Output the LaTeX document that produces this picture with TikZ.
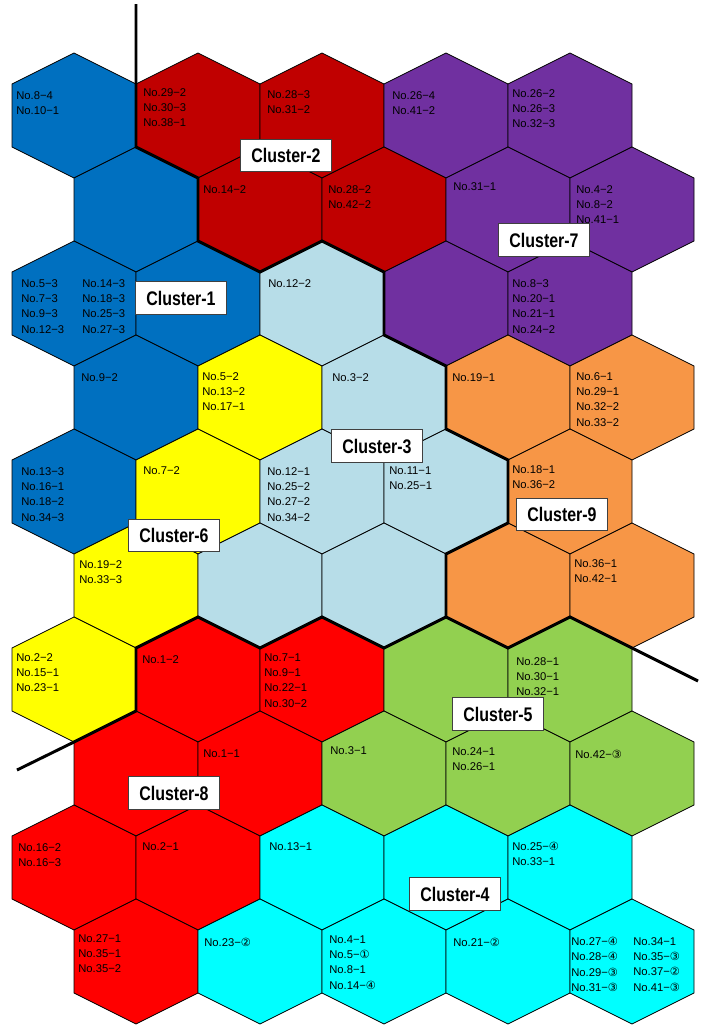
\documentclass[tikz,border=0pt]{standalone}
\usepackage{fontspec}
\setmainfont{Liberation Sans}
\newfontfamily\circfont{DejaVu Sans}
\newfontfamily\clusterfont[FakeStretch=0.81]{Liberation Sans}
\usepackage{xcolor}
\usepackage{tikz}
\definecolor{clblue}{HTML}{0070C0}
\definecolor{cldred}{HTML}{C00000}
\definecolor{clpurple}{HTML}{7030A0}
\definecolor{cllblue}{HTML}{B7DDE8}
\definecolor{clyellow}{HTML}{FFFF00}
\definecolor{clorange}{HTML}{F79646}
\definecolor{clred}{HTML}{FF0000}
\definecolor{clgreen}{HTML}{92D050}
\definecolor{clcyan}{HTML}{00FFFF}
\newcommand{\cnum}[1]{{\circfont #1}}

\begin{document}
\begin{tikzpicture}[
  x=0.025cm, y=-0.025cm,
  cell/.style={draw=black, line width=0.6pt},
  info/.style={anchor=north west, inner sep=0pt, align=left, font=\fontsize{8}{10.9}\selectfont},
  clusterlabel/.style={rectangle, draw=black!75, line width=0.6pt, fill=white, minimum width=2.29cm, minimum height=0.81cm, inner sep=0pt, font=\clusterfont\bfseries\fontsize{14}{16}\selectfont},
  cut/.style={line width=2.1pt, black}
]
\useasboundingbox (0,0) rectangle (703,1027);
\foreach \rw/\row in {
  0/{clblue,cldred,cldred,clpurple,clpurple},
  1/{clblue,cldred,cldred,clpurple,clpurple},
  2/{clblue,clblue,cllblue,clpurple,clpurple},
  3/{clblue,clyellow,cllblue,clorange,clorange},
  4/{clblue,clyellow,cllblue,cllblue,clorange},
  5/{clyellow,cllblue,cllblue,clorange,clorange},
  6/{clyellow,clred,clred,clgreen,clgreen},
  7/{clred,clred,clgreen,clgreen,clgreen},
  8/{clred,clred,clcyan,clcyan,clcyan},
  9/{clred,clcyan,clcyan,clcyan,clcyan}}{
  \foreach \col [count=\ci from 0] in \row {
    \pgfmathsetmacro\hx{74+124*\ci+62*mod(\rw,2)}
    \pgfmathsetmacro\hy{115.5+94*\rw}
    \draw[cell, fill=\col, shift={(\hx,\hy)}] (0,-62.5) -- (62,-31.5) -- (62,31.5) -- (0,62.5) -- (-62,31.5) -- (-62,-31.5) -- cycle;
  }
}
\draw[cut] (136,4) -- (136,147) -- (198,178) -- (198,241) -- (260,272) -- (322,241) -- (384,272) -- (384,335) -- (446,366) -- (446,429) -- (508,460) -- (508,523) -- (446,554) -- (446,617) -- (508,648) -- (570,617) -- (632,648) -- (698,681);
\draw[cut] (17,770) -- (74,742) -- (136,711) -- (136,648) -- (198,617) -- (260,648) -- (322,617) -- (384,648) -- (446,617);
\node[info] (n00) at (16,91) {No.8−4\\No.10−1};
\node[info] (n01) at (143,88) {No.29−2\\No.30−3\\No.38−1};
\node[info] (n02) at (267,90) {No.28−3\\No.31−2};
\node[info] (n03) at (392,91) {No.26−4\\No.41−2};
\node[info] (n04) at (512,89) {No.26−2\\No.26−3\\No.32−3};
\node[info] (n11) at (203,185) {No.14−2};
\node[info] (n12) at (328,185) {No.28−2\\No.42−2};
\node[info] (n13) at (453,182) {No.31−1};
\node[info] (n14) at (576,185) {No.4−2\\No.8−2\\No.41−1};
\node[info] (n20a) at (21,279) {No.5−3\\No.7−3\\No.9−3\\No.12−3};
\node[info] (n20b) at (82,279) {No.14−3\\No.18−3\\No.25−3\\No.27−3};
\node[info] (n22) at (268,279) {No.12−2};
\node[info] (n24) at (512,279) {No.8−3\\No.20−1\\No.21−1\\No.24−2};
\node[info] (n30) at (81,373) {No.9−2};
\node[info] (n31) at (202,372) {No.5−2\\No.13−2\\No.17−1};
\node[info] (n32) at (332,373) {No.3−2};
\node[info] (n33) at (452,373) {No.19−1};
\node[info] (n34) at (576,372) {No.6−1\\No.29−1\\No.32−2\\No.33−2};
\node[info] (n40) at (21,467) {No.13−3\\No.16−1\\No.18−2\\No.34−3};
\node[info] (n41) at (143,466) {No.7−2};
\node[info] (n42) at (267,467) {No.12−1\\No.25−2\\No.27−2\\No.34−2};
\node[info] (n43) at (389,466) {No.11−1\\No.25−1};
\node[info] (n44) at (512,465) {No.18−1\\No.36−2};
\node[info] (n50) at (79,560) {No.19−2\\No.33−3};
\node[info] (n54) at (574,559) {No.36−1\\No.42−1};
\node[info] (n60) at (16,653) {No.2−2\\No.15−1\\No.23−1};
\node[info] (n61) at (142,655) {No.1−2};
\node[info] (n62) at (264,653) {No.7−1\\No.9−1\\No.22−1\\No.30−2};
\node[info] (n64) at (516,657) {No.28−1\\No.30−1\\No.32−1};
\node[info] (n71) at (203,749) {No.1−1};
\node[info] (n72) at (330,746) {No.3−1};
\node[info] (n73) at (452,747) {No.24−1\\No.26−1};
\node[info] (n74) at (575,750) {No.42−\cnum{③}};
\node[info] (n80) at (18,843) {No.16−2\\No.16−3};
\node[info] (n81) at (142,842) {No.2−1};
\node[info] (n82) at (269,842) {No.13−1};
\node[info] (n84) at (512,842) {No.25−\cnum{④}\\No.33−1};
\node[info] (n90) at (78,934) {No.27−1\\No.35−1\\No.35−2};
\node[info] (n91) at (204,938) {No.23−\cnum{②}};
\node[info] (n92) at (329,935) {No.4−1\\No.5−\cnum{①}\\No.8−1\\No.14−\cnum{④}};
\node[info] (n93) at (453,938) {No.21−\cnum{②}};
\node[info] (n94a) at (571,937) {No.27−\cnum{④}\\No.28−\cnum{④}\\No.29−\cnum{③}\\No.31−\cnum{③}};
\node[info] (n94b) at (633,937) {No.34−1\\No.35−\cnum{③}\\No.37−\cnum{②}\\No.41−\cnum{③}};
\node[clusterlabel] (cl1) at (181,298) {Cluster-1};
\node[clusterlabel] (cl2) at (286,155.5) {Cluster-2};
\node[clusterlabel] (cl3) at (377,446) {Cluster-3};
\node[clusterlabel] (cl4) at (455,894) {Cluster-4};
\node[clusterlabel] (cl5) at (498,714) {Cluster-5};
\node[clusterlabel] (cl6) at (174,535.5) {Cluster-6};
\node[clusterlabel] (cl7) at (544,240) {Cluster-7};
\node[clusterlabel] (cl8) at (174,793) {Cluster-8};
\node[clusterlabel] (cl9) at (562,514.5) {Cluster-9};
\end{tikzpicture}
\end{document}
